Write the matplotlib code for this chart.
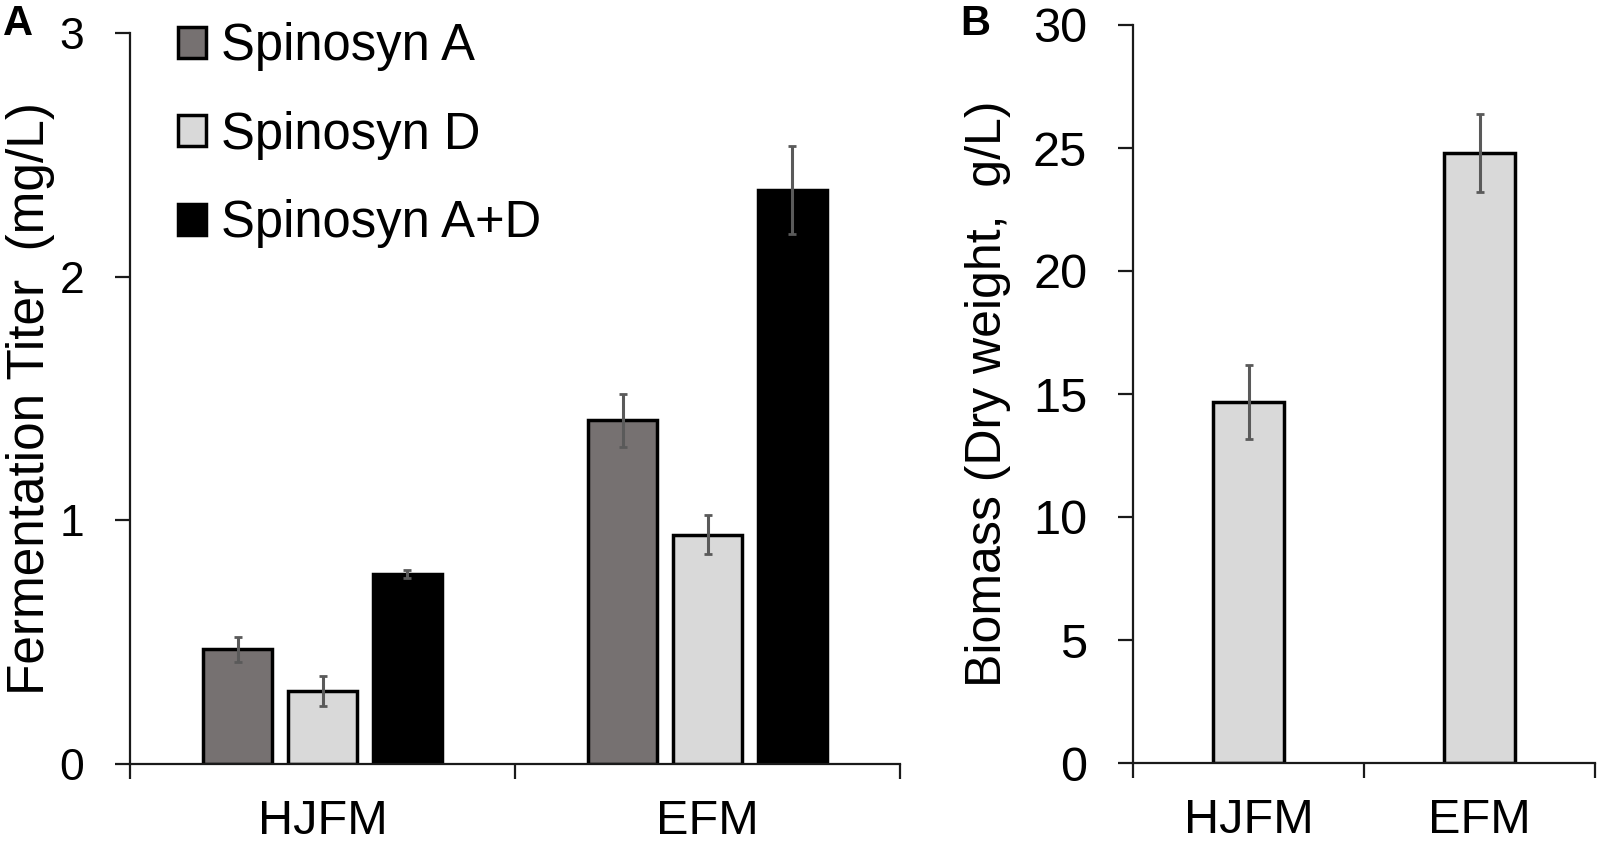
import numpy as np
import matplotlib
matplotlib.use('Agg')
import matplotlib.pyplot as plt

plt.rcParams['font.family'] = ['Liberation Sans', 'DejaVu Sans']

# panel A data
media = ['HJFM', 'EFM']
series_names = ['Spinosyn A', 'Spinosyn D', 'Spinosyn A+D']
titer_a = [0.47, 1.41]
titer_d = [0.30, 0.94]
titer_ad = [0.78, 2.355]
err_a = [0.05, 0.11]
err_d = [0.06, 0.08]
err_ad = [0.015, 0.18]

# panel B data
biomass = [14.67, 24.81]
biomass_err = [1.5, 1.58]

colors = ['#767171', '#d9d9d9', '#000000']
ecolor = '#5a5a5a'

fig = plt.figure(figsize=(16.04, 8.46), dpi=100)
W, H = 1604, 846


def px_axes(x0, y0, x1, y1):
    return fig.add_axes([x0 / W, 1 - y1 / H, (x1 - x0) / W, (y1 - y0) / H])


def style_axes(ax, n_cat, tick_size):
    for s in ['top', 'right']:
        ax.spines[s].set_visible(False)
    for s in ['left', 'bottom']:
        ax.spines[s].set_linewidth(1.6)
        ax.spines[s].set_color('#1a1a1a')
    ax.set_xlim(-0.5, n_cat - 0.5)
    ax.set_xticks(np.arange(n_cat))
    ax.set_xticklabels(media)
    ax.set_xticks(np.arange(n_cat + 1) - 0.5, minor=True)
    ax.tick_params(axis='x', which='major', length=0, pad=25, labelsize=35)
    ax.tick_params(axis='x', which='minor', length=11, width=1.6, direction='out', color='#1a1a1a')
    ax.tick_params(axis='y', length=11, width=1.6, direction='out', pad=22,
                   labelsize=tick_size, color='#1a1a1a')


# ---- panel A ----
axA = px_axes(130, 33, 900, 764)
x = np.arange(len(media))
bw = 0.18
step = 0.22
vals = [titer_a, titer_d, titer_ad]
errs = [err_a, err_d, err_ad]
for i, (v, e) in enumerate(zip(vals, errs)):
    axA.bar(x + (i - 1) * step, v, width=bw, color=colors[i], edgecolor='black',
            linewidth=2.5, label=series_names[i], zorder=2)
    axA.errorbar(x + (i - 1) * step, v, yerr=e, fmt='none', ecolor=ecolor,
                 elinewidth=2.2, capsize=3, capthick=2, zorder=3)
axA.set_ylim(0, 3)
axA.set_yticks([0, 1, 2, 3])
style_axes(axA, len(media), 32)
axA.set_ylabel('Fermentation Titer  (mg/L)', fontsize=37)
axA.yaxis.set_label_coords(-0.098, 0.5)

leg = axA.legend(loc='upper left', bbox_to_anchor=(178 / W, 1 - 22 / H),
                 bbox_transform=fig.transFigure, frameon=False, fontsize=36.5,
                 handlelength=0.56, handleheight=0.56, handletextpad=0.28,
                 labelspacing=0.78, borderpad=0, borderaxespad=0)

# ---- panel B ----
axB = px_axes(1133, 25, 1595, 763)
axB.bar(x, biomass, width=0.31, color=colors[1], edgecolor='black', linewidth=2.5, zorder=2)
axB.errorbar(x, biomass, yerr=biomass_err, fmt='none', ecolor=ecolor,
             elinewidth=2.2, capsize=3, capthick=2, zorder=3)
axB.set_ylim(0, 30)
axB.set_yticks(np.arange(0, 31, 5))
style_axes(axB, len(media), 35)
axB.set_ylabel('Biomass (Dry weight,  g/L)', fontsize=36)
axB.yaxis.set_label_coords(-0.265, 0.5)

fig.text(3 / W, 1 - 4 / H, 'A', fontsize=30, fontweight='bold', va='top', ha='left')
fig.text(960 / W, 1 - 4 / H, 'B', fontsize=30, fontweight='bold', va='top', ha='left')

fig.savefig('out.png', dpi=100)
